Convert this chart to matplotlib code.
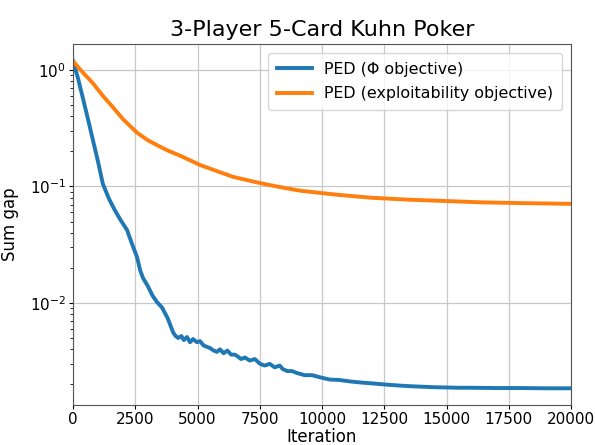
import matplotlib
matplotlib.use("Agg")
import matplotlib.pyplot as plt
import numpy as np

# PED (Phi objective) - blue
phi_iter = [0, 200, 400, 600, 800, 1000, 1200, 1450, 1690, 1900, 2170, 2350, 2570, 2700, 2810,
            3000, 3200, 3370, 3580, 3800, 4020, 4120, 4220, 4350, 4450, 4580, 4700, 4820, 4980,
            5100, 5250, 5380, 5500, 5650, 5780, 5900, 6050, 6200, 6350, 6500, 6590, 6750,
            6900, 7100, 7300, 7510, 7700, 7900, 8100, 8300, 8430, 8600, 8800, 9000, 9300,
            9600, 9920, 10300, 10700, 11120, 11600, 12000, 12450, 13000, 13500, 14000, 14500,
            15000, 15500, 16000, 17000, 18000, 19000, 20000]
phi_gap = [1.20, 0.85, 0.57, 0.38, 0.25, 0.165, 0.105, 0.078, 0.062, 0.052, 0.0423, 0.033, 0.0248,
           0.019, 0.0164, 0.0140, 0.0115, 0.0102, 0.0091, 0.0074, 0.0056, 0.0052, 0.0050, 0.0052,
           0.0048, 0.0051, 0.0046, 0.0049, 0.0046, 0.0047, 0.0043, 0.0042, 0.0041, 0.0039, 0.0038,
           0.0040, 0.0037, 0.0039, 0.0036, 0.0036, 0.0035, 0.0033, 0.0034, 0.0032, 0.0033, 0.0030,
           0.0029, 0.0030, 0.0028, 0.0029, 0.0027, 0.0026, 0.0026, 0.0025, 0.0024, 0.0024, 0.0023,
           0.0022, 0.00218, 0.00212, 0.00207, 0.00204, 0.00200, 0.00196, 0.00193, 0.00191,
           0.00189, 0.00188, 0.00187, 0.00187, 0.00186, 0.00186, 0.00185, 0.00185]

# PED (exploitability objective) - orange
exp_iter = [0, 400, 800, 1200, 1600, 2000, 2570, 3000, 3400, 3775, 4400, 5100, 5800, 6430,
            7510, 8300, 9120, 10600, 12000, 13500, 15000, 16500, 18000, 20000]
exp_gap = [1.19, 0.95, 0.77, 0.60, 0.48, 0.38, 0.29, 0.25, 0.225, 0.205, 0.18, 0.153, 0.135,
           0.121, 0.107, 0.099, 0.092, 0.085, 0.080, 0.077, 0.075, 0.073, 0.072, 0.071]

title = "3-Player 5-Card Kuhn Poker"
labels = ["PED (\u03a6 objective)", "PED (exploitability objective)"]

fig = plt.figure(figsize=(5.95, 4.45), dpi=100)
ax = fig.add_axes([0.1227, 0.0899, 0.837, 0.811])
ax.plot(phi_iter, phi_gap, color="#1f77b4", lw=2.8, label=labels[0])
ax.plot(exp_iter, exp_gap, color="#ff7f0e", lw=2.8, label=labels[1])
ax.set_yscale("log")
ax.set_xlim(0, 20000)
ax.set_ylim(1.33e-3, 1.67)
ax.set_xticks(np.arange(0, 20001, 2500))
ax.grid(True, which="major", color="#c8c8c8", lw=0.9)
ax.tick_params(which="major", labelsize=11, length=3, pad=2)
ax.tick_params(which="minor", length=2)
for s in ax.spines.values():
    s.set_color("#555555")
ax.set_xlabel("Iteration", fontsize=12, labelpad=1)
ax.set_ylabel("Sum gap", fontsize=12, labelpad=8)
ax.set_title(title, fontsize=16)
ax.legend(loc="upper right", fontsize=11.4, handlelength=2.2, labelspacing=0.62,
          borderpad=0.55, borderaxespad=0.55)
fig.savefig("out.png", dpi=100)
